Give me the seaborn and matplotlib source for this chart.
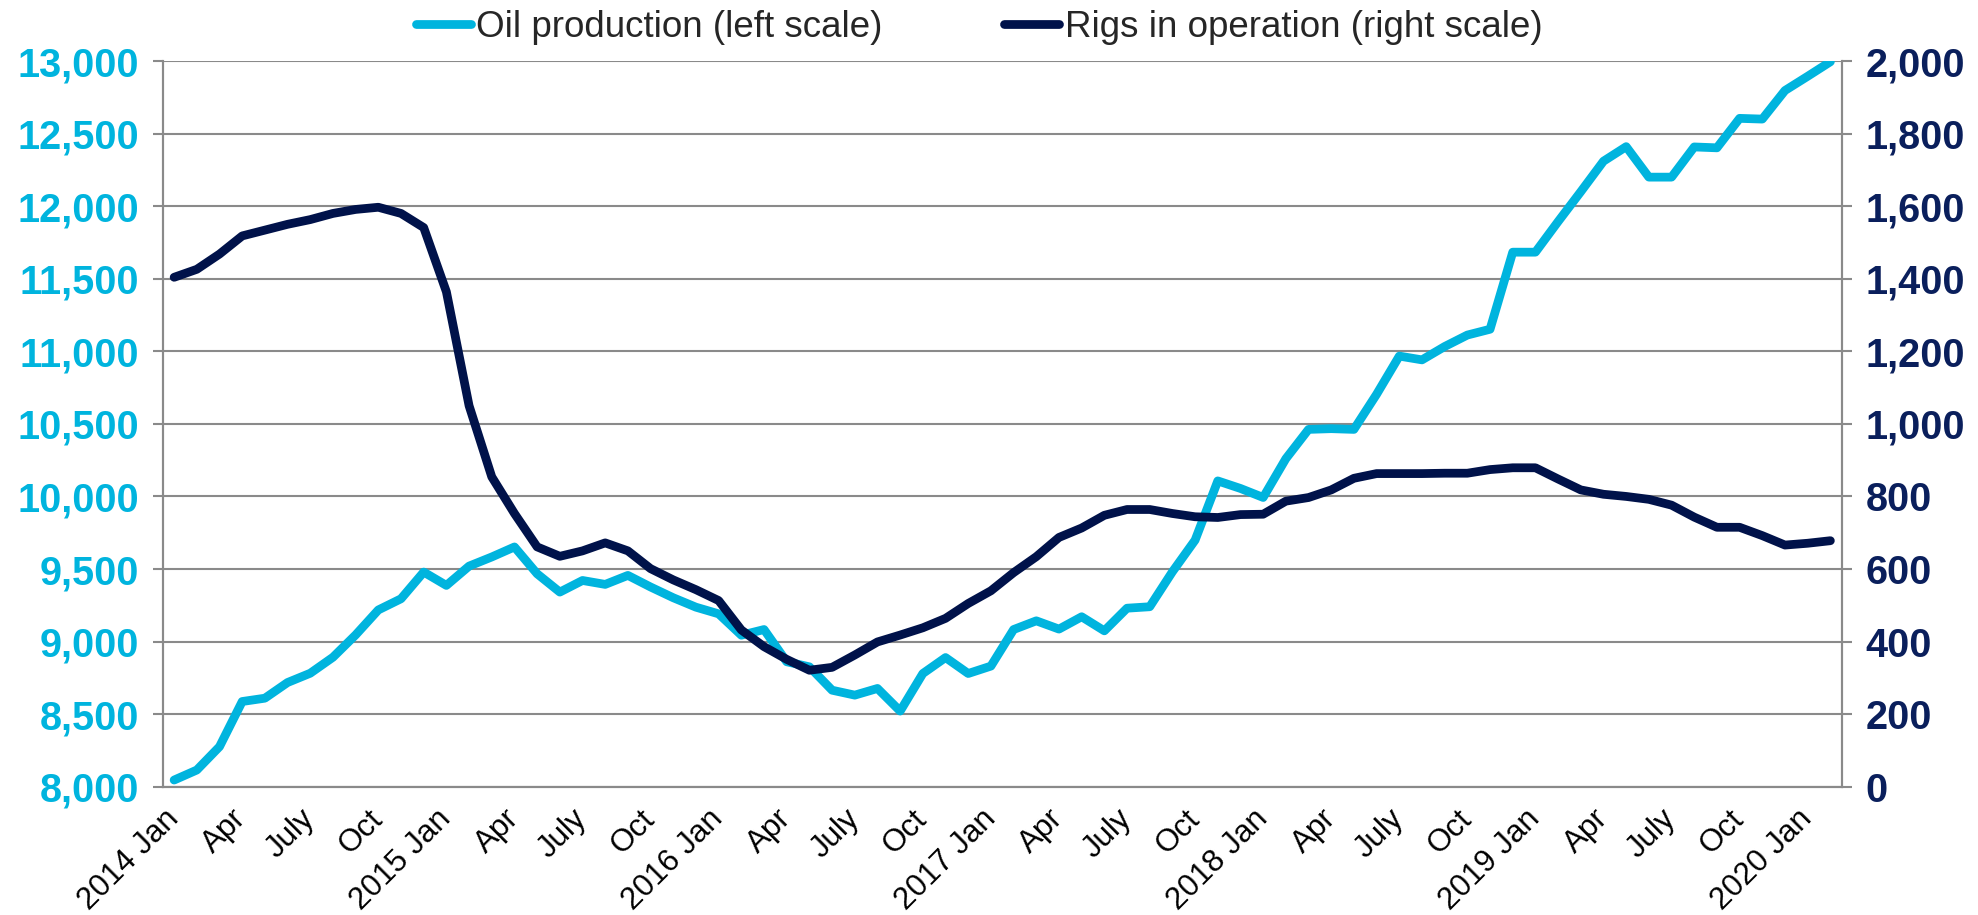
import numpy as np
import pandas as pd
import seaborn as sns
import matplotlib.pyplot as plt

# monthly series, 2014 Jan .. 2020 Feb
oil_production = [8046, 8115, 8276, 8587, 8610, 8718, 8782, 8892, 9046, 9218,
                  9295, 9479, 9387, 9520, 9583, 9652, 9467, 9341, 9421, 9394,
                  9456, 9376, 9302, 9237, 9191, 9044, 9083, 8861, 8826, 8665,
                  8631, 8677, 8521, 8780, 8890, 8780, 8831, 9083, 9143, 9086,
                  9171, 9074, 9230, 9240, 9481, 9699, 10107, 10055, 9993, 10260,
                  10462, 10467, 10462, 10704, 10967, 10941, 11033, 11112, 11152, 11683,
                  11683, 11894, 12100, 12310, 12410, 12200, 12200, 12408, 12402, 12605,
                  12600, 12797, 12895, 12995]
rigs = [1404, 1426, 1468, 1518, 1534, 1550, 1563, 1580, 1591, 1597,
        1580, 1541, 1364, 1050, 854, 753, 661, 635, 650, 672,
        650, 601, 570, 543, 513, 432, 386, 351, 321, 329,
        363, 399, 418, 438, 464, 505, 540, 590, 634, 687,
        713, 748, 764, 764, 753, 744, 742, 750, 751, 787,
        797, 818, 850, 863, 863, 863, 864, 864, 874, 879,
        879, 848, 818, 806, 800, 792, 776, 743, 715, 715,
        692, 666, 671, 678]
years = ["2014", "2015", "2016", "2017", "2018", "2019", "2020"]
quarter_names = ["Jan", "Apr", "July", "Oct"]

months = []
for y in years:
    for m in range(12):
        months.append((y, m))
months = months[:len(oil_production)]

tick_labels = []
for y, m in months:
    if m == 0:
        tick_labels.append(f"{y} Jan")
    elif m % 3 == 0:
        tick_labels.append(quarter_names[m // 3])
    else:
        tick_labels.append("")

df = pd.DataFrame({"idx": np.arange(len(months)), "oil": oil_production, "rigs": rigs})

CYAN = "#00B4DE"
NAVY = "#00124A"
NAVY_TXT = "#0A1F5C"
GRID = "#8A8A8A"

sns.set_style("white")
plt.rcParams["font.family"] = ["Liberation Sans", "DejaVu Sans"]

fig = plt.figure(figsize=(19.78, 9.15), dpi=100)
ax = fig.add_axes([0.0823, 0.1402, 0.8488, 0.7931])
ax2 = ax.twinx()

line_kw = dict(linewidth=6.3, solid_capstyle="round", solid_joinstyle="round", legend=False, zorder=3)
sns.lineplot(data=df, x="idx", y="oil", ax=ax, color=CYAN,
             label="Oil production (left scale)", **line_kw)
sns.lineplot(data=df, x="idx", y="rigs", ax=ax2, color=NAVY,
             label="Rigs in operation (right scale)", **line_kw)

ax.set_xlim(-0.5, len(months) - 0.5)
ax.set_ylim(8000, 13000)
ax2.set_ylim(0, 2000)
ax.set_yticks(range(8000, 13001, 500))
ax2.set_yticks(range(0, 2001, 200))
ax.set_xticks(df["idx"])
ax.set_xticklabels(tick_labels, rotation=45, ha="right", va="center",
                   rotation_mode="anchor", fontsize=22.5, color="black")
ax.set_yticklabels([f"{v:,}" for v in range(8000, 13001, 500)],
                   fontsize=28.5, fontweight="bold", color=CYAN)
ax2.set_yticklabels([f"{v:,}" for v in range(0, 2001, 200)],
                    fontsize=28.5, fontweight="bold", color=NAVY_TXT)
ax.set_xlabel(""); ax.set_ylabel(""); ax2.set_ylabel("")

ax.grid(True, axis="y", color=GRID, linewidth=1.5)
ax.set_axisbelow(True)
ax.tick_params(axis="x", direction="out", length=6, width=1.5, color=GRID, pad=14)
ax.tick_params(axis="y", direction="out", length=7, width=1.5, color=GRID, pad=10)
ax2.tick_params(axis="y", direction="out", length=7, width=1.5, color=GRID, pad=10)
for a in (ax, ax2):
    a.spines["top"].set_visible(False)
    for s in ("left", "right", "bottom"):
        a.spines[s].set_color(GRID)
        a.spines[s].set_linewidth(1.5)

handles = ax.get_lines()[:1] + ax2.get_lines()[:1]
fig.legend(handles, [h.get_label() for h in handles], loc="upper center",
           bbox_to_anchor=(0.495, 1.025), ncol=2, frameon=False, fontsize=26.5,
           handlelength=1.5, handletextpad=0.15, columnspacing=3.3)

fig.savefig("out.png", dpi=100)
